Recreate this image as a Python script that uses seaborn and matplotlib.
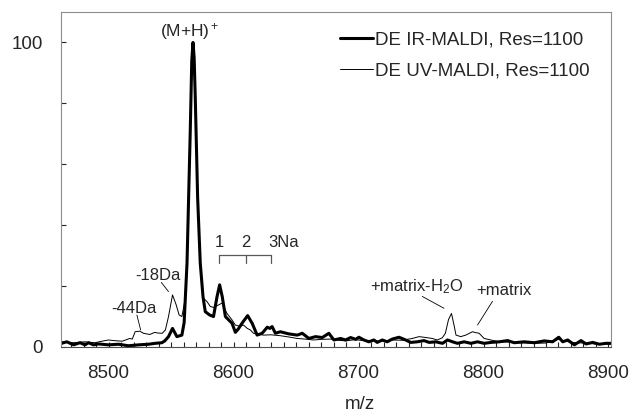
import numpy as np
import pandas as pd
import matplotlib
matplotlib.use("Agg")
import matplotlib.pyplot as plt
import seaborn as sns

# IR-MALDI spectrum (thick line)
ir_mz = [8462.5, 8466.6, 8472, 8477.2, 8481.2, 8484, 8488, 8492, 8500, 8508, 8516, 8524,
         8532, 8537.3, 8542.7, 8545, 8548, 8551.2, 8554.7, 8558.7, 8560.5, 8562.8, 8565.4,
         8566.6, 8567.6, 8568.5, 8569.4, 8571.3, 8573.4, 8575.6, 8577.4, 8580.9, 8584,
         8586.8, 8588.9, 8591, 8593.5, 8596.1, 8598.8, 8601.5, 8604, 8606.8, 8611.3,
         8614.9, 8618.9, 8622.9, 8627, 8629, 8630.9, 8633.5, 8637.5, 8644.2, 8651, 8655,
         8660.3, 8665.6, 8671, 8676.3, 8680.3, 8685.6, 8689.6, 8693.7, 8697.7, 8700.3,
         8704.3, 8708.3, 8712.3, 8715, 8719, 8723, 8727, 8732.4, 8737.7, 8741.8, 8747.1,
         8752.4, 8756.5, 8761.8, 8767.2, 8771.2, 8775.2, 8779.2, 8784.5, 8789.9, 8795.2,
         8800.5, 8805.9, 8812.5, 8819.3, 8824.6, 8832.6, 8840.6, 8848.6, 8855.3, 8860.2,
         8863.4, 8867.4, 8872.7, 8878, 8882, 8887.4, 8892.7, 8898, 8902]
ir_int = [1.2, 1.7, 0.7, 1.4, 0.7, 1.4, 0.7, 1.0, 0.7, 0.9, 0.4, 0.7,
          0.9, 1.2, 1.4, 2.0, 3.4, 6.1, 3.4, 3.9, 8.0, 27.5, 71,
          94, 100, 95, 82, 49, 27.5, 16.5, 11.6, 10.5, 10,
          16.5, 20.4, 16.5, 10, 8.9, 7.8, 4.8, 6.0, 7.8, 10.3,
          7.8, 3.9, 4.5, 6.5, 6.1, 6.7, 4.5, 5.0, 4.3, 3.9, 4.5,
          2.8, 3.4, 3.1, 4.5, 2.3, 2.8, 2.3, 3.1, 2.5, 3.2,
          2.3, 1.7, 2.3, 1.5, 2.3, 1.7, 2.6, 3.2, 2.3, 1.5, 1.7,
          2.1, 1.5, 1.7, 1.2, 2.3, 1.7, 1.2, 1.7, 1.2, 1.7,
          1.2, 1.5, 1.7, 2.1, 1.4, 1.7, 1.4, 2.0, 1.7, 3.2,
          1.7, 2.3, 0.7, 2.1, 1.0, 1.5, 0.9, 1.2, 1.2]

# UV-MALDI spectrum (thin line)
uv_mz = [8462, 8465, 8472, 8481, 8489, 8496, 8500, 8504, 8511, 8517, 8519, 8521.3, 8525,
         8528, 8533, 8537, 8539, 8543, 8545.5, 8548, 8551.2, 8554, 8556.5, 8558.7, 8561,
         8563, 8565.4, 8566.6, 8567.6, 8568.5, 8569.4, 8571.3, 8573.4, 8576, 8578.8,
         8581.4, 8584, 8588, 8590.8, 8594.8, 8598.8, 8601.5, 8605, 8608, 8611, 8613.5,
         8616, 8620, 8624, 8630, 8637.5, 8644, 8651, 8657, 8664, 8670, 8677.6, 8684, 8690,
         8697, 8704, 8712, 8720, 8728, 8735, 8743, 8748.5, 8754, 8759, 8763, 8767, 8769.5,
         8772, 8774.4, 8776.5, 8778, 8781.8, 8785.8, 8791.2, 8793.9, 8796.5, 8800.5,
         8805.9, 8812.5, 8820, 8830, 8840, 8850, 8860, 8870, 8880, 8890, 8902]
uv_int = [1.7, 1.7, 1.4, 1.7, 1.4, 2.0, 2.3, 2.1, 1.9, 2.8, 2.6, 5.0, 5.2,
          4.5, 4.1, 4.8, 4.6, 4.5, 5.6, 10, 17.1, 14, 10.5, 10, 15,
          30, 71, 94, 99, 95, 82, 49, 27, 16, 14.9,
          13.3, 13, 13.8, 14.4, 11, 8.9, 7.2, 6.8, 7.2, 6.1, 5.6,
          4.5, 4.2, 3.9, 4.0, 3.7, 3.3, 2.8, 2.6, 2.3, 2.5, 2.6, 2.2, 2.0,
          2.4, 2.1, 2.0, 1.9, 2.3, 2.2, 2.8, 3.4, 3.1, 2.8, 2.3, 3.0, 4.5,
          9, 11, 7, 3.9, 3.4, 3.9, 5.0, 4.7, 4.5, 2.8,
          2.3, 1.7, 1.6, 1.4, 1.2, 1.3, 2.5, 1.5, 1.3, 1.0, 1.0]

ir_label = "DE IR-MALDI, Res=1100"
uv_label = "DE UV-MALDI, Res=1100"
na_pos = [8588.4, 8609.7, 8630.3]
na_labels = ["1", "2", "3Na"]

sns.set_style("ticks")
plt.rcParams["font.family"] = ["Liberation Sans", "DejaVu Sans"]
plt.rcParams["mathtext.fontset"] = "custom"
plt.rcParams["mathtext.rm"] = "Liberation Sans"
plt.rcParams["mathtext.it"] = "Liberation Sans"

fig = plt.figure(figsize=(6.31, 4.15), dpi=100)
ax = fig.add_axes([0.0967, 0.1639, 0.8716, 0.8072])

sns.lineplot(x=ir_mz, y=ir_int, ax=ax, color="black", lw=2.2, label=ir_label,
             estimator=None, sort=False)
sns.lineplot(x=uv_mz, y=uv_int, ax=ax, color="black", lw=0.7, label=uv_label,
             estimator=None, sort=False)

ax.set_xlim(8462, 8902)
ax.set_ylim(0, 110)
ax.set_xticks([8500, 8600, 8700, 8800, 8900])
ax.set_xticks(np.arange(8470, 8901, 10), minor=True)
ax.set_yticks([0, 100])
ax.set_yticks([20, 40, 60, 80], minor=True)
ax.tick_params(axis="both", which="both", direction="in", length=3.5, width=0.8,
               labelsize=13.5)
ax.tick_params(axis="x", which="both", pad=13)
ax.tick_params(axis="y", which="both", pad=13)

for side in ["left", "top", "right"]:
    ax.spines[side].set_color("0.55")
    ax.spines[side].set_linewidth(0.8)
ax.spines["bottom"].set_color("0.3")
ax.spines["bottom"].set_linewidth(0.8)

ax.set_xlabel("m/z", fontsize=13.5)
ax.set_ylabel("")
ax.xaxis.set_label_coords(0.544, -0.145)

ax.legend(loc="upper right", bbox_to_anchor=(0.975, 0.965), frameon=False,
          fontsize=13.5, handlelength=1.75, handletextpad=0.1, labelspacing=0.75,
          borderaxespad=0)

# peak annotations
ax.text(8564.6, 103.6, "(M+H)$^+$", fontsize=12.5, ha="center", va="center")
ax.text(8520.5, 12.8, "-44Da", fontsize=12, ha="center", va="center")
ax.plot([8522.7, 8525.7], [10.5, 5.6], color="black", lw=0.6)
ax.text(8539.8, 23.4, "-18Da", fontsize=12, ha="center", va="center")
ax.plot([8542.2, 8548], [21.2, 18.2], color="black", lw=0.6)

# sodium adduct bracket
ax.plot([na_pos[0], na_pos[-1]], [30.3, 30.3], color="0.35", lw=0.9)
for p in na_pos:
    ax.plot([p, p], [30.3, 27.5], color="0.35", lw=0.9)
ax.text(na_pos[0], 34.2, na_labels[0], fontsize=12, ha="center", va="center")
ax.text(na_pos[1], 34.2, na_labels[1], fontsize=12, ha="center", va="center")
ax.text(na_pos[2] - 2.5, 34.2, na_labels[2], fontsize=12, ha="left", va="center")

ax.text(8784.3, 18.2, "+matrix-H$_2$O", fontsize=12, ha="right", va="baseline")
ax.plot([8751.0, 8768.4], [16.6, 12.7], color="black", lw=0.6)
ax.text(8793.9, 17.1, "+matrix", fontsize=12, ha="left", va="baseline")
ax.plot([8807.2, 8795.2], [15.0, 7.2], color="black", lw=0.6)

fig.savefig("out.png", dpi=100)
